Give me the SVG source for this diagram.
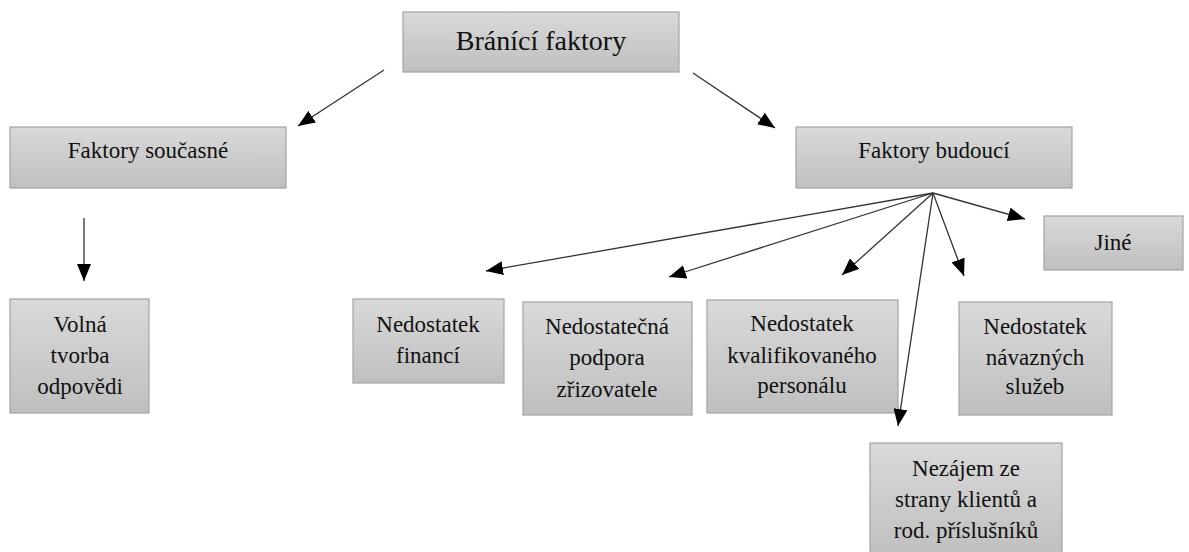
<svg xmlns="http://www.w3.org/2000/svg" width="1189" height="552" viewBox="0 0 1189 552">
<defs>
<linearGradient id="g" x1="0" y1="0" x2="0" y2="1">
<stop offset="0" stop-color="#d9d9d9"/>
<stop offset="1" stop-color="#bfbfbf"/>
</linearGradient>
<marker id="ah" markerUnits="userSpaceOnUse" markerWidth="18" markerHeight="14" viewBox="0 0 18 14" refX="17" refY="7" orient="auto">
<path d="M0,0 L17,7 L0,14 Z" fill="#000"/>
</marker>
</defs>
<style>
.box{fill:url(#g);stroke:#a3a3a3;stroke-width:1.2}
text{font-family:'Liberation Serif','Times New Roman','DejaVu Serif',serif;font-size:23px;fill:#111;text-anchor:middle}
.big{font-size:28px}
.c{stroke:#333;stroke-width:1.3;fill:none;marker-end:url(#ah)}
</style>
<rect width="1189" height="552" fill="#fff"/>
<g id="n-branici"><rect class="box" x="403" y="12" width="276" height="60"/><text class="big" x="541" y="50">Bránící faktory</text></g>
<g id="n-soucasne"><rect class="box" x="10" y="127" width="276" height="61"/><text x="148" y="158">Faktory současné</text></g>
<g id="n-budouci"><rect class="box" x="796" y="127" width="276" height="61"/><text x="934" y="158">Faktory budoucí</text></g>
<g id="n-volna"><rect class="box" x="10" y="299" width="139" height="114"/><text x="80" y="332">Volná</text><text x="80" y="363">tvorba</text><text x="80" y="394">odpovědi</text></g>
<g id="n-financi"><rect class="box" x="353" y="299" width="151" height="84"/><text x="428" y="332">Nedostatek</text><text x="428" y="363">financí</text></g>
<g id="n-podpora"><rect class="box" x="523" y="302" width="169" height="113"/><text x="607" y="334">Nedostatečná</text><text x="607" y="365">podpora</text><text x="607" y="397">zřizovatele</text></g>
<g id="n-personal"><rect class="box" x="707" y="300" width="191" height="113"/><text x="802" y="331">Nedostatek</text><text x="802" y="363">kvalifikovaného</text><text x="802" y="393">personálu</text></g>
<g id="n-sluzby"><rect class="box" x="959" y="302" width="153" height="113"/><text x="1035" y="334">Nedostatek</text><text x="1035" y="365">návazných</text><text x="1035" y="394">služeb</text></g>
<g id="n-jine"><rect class="box" x="1044" y="216" width="139" height="54"/><text x="1113" y="250">Jiné</text></g>
<g id="n-nezajem"><rect class="box" x="870" y="443" width="192" height="115"/><text x="966" y="476">Nezájem ze</text><text x="966" y="507">strany klientů a</text><text x="966" y="538">rod. příslušníků</text></g>
<g id="connectors">
<line class="c" x1="384" y1="70" x2="298" y2="126"/>
<line class="c" x1="693" y1="73" x2="775" y2="128"/>
<line class="c" x1="84" y1="218" x2="84" y2="281"/>
<line class="c" x1="933" y1="193" x2="486" y2="271"/>
<line class="c" x1="933" y1="193" x2="669" y2="277"/>
<line class="c" x1="933" y1="193" x2="842" y2="275"/>
<line class="c" x1="933" y1="193" x2="898" y2="426"/>
<line class="c" x1="933" y1="193" x2="964" y2="276"/>
<line class="c" x1="933" y1="193" x2="1025" y2="219"/>
</g>
</svg>
